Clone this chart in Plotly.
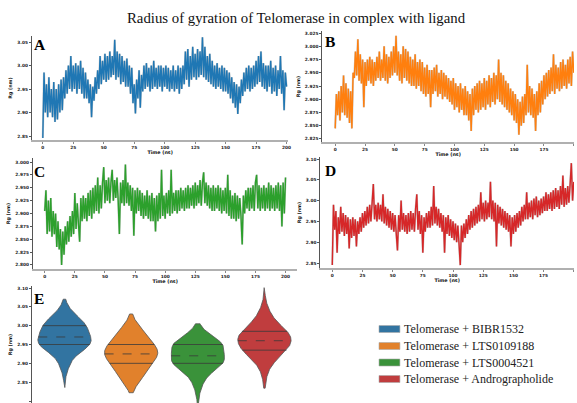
import numpy as np
import plotly.graph_objects as go

W, H = 577, 403

time_ns = list(range(0, 201))
time_ticks = [0, 25, 50, 75, 100, 125, 150, 175, 200]

rg_bibr1532 = [
    2.846, 2.985, 2.900, 2.960, 2.890, 2.975, 2.900, 2.950, 2.890, 2.965,
    2.880, 2.950, 2.885, 2.960, 2.900, 2.970, 2.905, 2.975, 2.930, 2.990,
    2.940, 3.000, 2.950, 3.020, 2.945, 3.000, 2.950, 3.005, 2.940, 3.000,
    2.950, 3.010, 2.940, 2.995, 2.930, 2.985, 2.930, 2.970, 2.920, 2.960,
    2.890, 2.955, 2.925, 2.975, 2.940, 2.990, 2.950, 3.020, 2.960, 3.010,
    2.970, 3.025, 2.965, 3.020, 2.970, 3.030, 2.975, 3.020, 2.980, 3.055,
    2.970, 3.030, 2.975, 3.025, 2.960, 3.020, 2.965, 3.010, 2.955, 3.015,
    2.955, 3.000, 2.940, 2.995, 2.920, 2.960, 2.898, 2.970, 2.930, 2.990,
    2.910, 2.980, 2.945, 3.000, 2.950, 3.005, 2.955, 2.995, 2.945, 3.000,
    2.950, 3.010, 2.955, 2.995, 2.950, 3.000, 2.955, 3.000, 2.945, 2.995,
    2.955, 3.000, 2.950, 2.995, 2.945, 2.990, 2.950, 3.000, 2.945, 2.990,
    2.950, 3.000, 2.940, 2.995, 2.950, 3.000, 2.960, 3.030, 2.970, 3.035,
    2.955, 3.020, 2.970, 3.040, 2.975, 3.025, 2.970, 3.035, 2.975, 3.030,
    2.980, 3.060, 2.975, 3.040, 2.970, 3.020, 2.965, 3.025, 2.960, 3.010,
    2.955, 3.000, 2.950, 3.005, 2.955, 2.995, 2.950, 3.000, 2.945, 2.995,
    2.945, 2.990, 2.940, 2.985, 2.930, 2.975, 2.920, 2.965, 2.910, 2.960,
    2.897, 2.955, 2.920, 2.970, 2.935, 2.985, 2.945, 2.995, 2.950, 3.000,
    2.945, 2.995, 2.950, 3.000, 2.955, 3.010, 2.960, 3.020, 2.965, 3.030,
    2.955, 3.005, 2.950, 3.000, 2.945, 3.000, 2.955, 3.010, 2.940, 2.995,
    2.945, 3.000, 2.935, 2.990, 2.950, 3.020, 2.940, 2.990, 2.905, 2.985,
    2.955,
]

rg_lts0109188 = [
    2.845, 2.910, 2.870, 2.915, 2.860, 2.925, 2.875, 2.945, 2.870, 2.930,
    2.865, 2.920, 2.855, 2.915, 2.845, 2.950, 2.940, 2.990, 2.945, 3.013,
    2.935, 2.985, 2.930, 2.975, 2.885, 2.970, 2.925, 2.975, 2.935, 2.980,
    2.930, 2.975, 2.925, 2.970, 2.935, 2.980, 2.940, 2.990, 2.935, 2.975,
    2.940, 3.000, 2.935, 2.985, 2.930, 2.980, 2.940, 2.990, 2.945, 3.000,
    2.950, 3.020, 2.945, 2.990, 2.935, 2.985, 2.930, 3.000, 2.940, 2.995,
    2.935, 2.990, 2.930, 2.980, 2.925, 2.975, 2.925, 2.985, 2.920, 2.970,
    2.925, 2.975, 2.915, 2.970, 2.910, 2.960, 2.905, 2.965, 2.910, 2.955,
    2.885, 2.955, 2.910, 2.960, 2.915, 2.965, 2.905, 2.950, 2.910, 2.955,
    2.900, 2.950, 2.905, 2.945, 2.900, 2.940, 2.895, 2.935, 2.890, 2.940,
    2.880, 2.930, 2.885, 2.925, 2.875, 2.930, 2.880, 2.920, 2.870, 2.925,
    2.870, 2.915, 2.860, 2.910, 2.840, 2.920, 2.870, 2.925, 2.880, 2.930,
    2.875, 2.935, 2.880, 2.930, 2.885, 2.940, 2.880, 2.935, 2.890, 2.945,
    2.885, 2.940, 2.895, 2.950, 2.890, 2.945, 2.900, 2.975, 2.895, 2.950,
    2.890, 2.945, 2.885, 2.935, 2.880, 2.930, 2.875, 2.920, 2.870, 2.915,
    2.860, 2.910, 2.855, 2.900, 2.833, 2.895, 2.850, 2.905, 2.855, 2.910,
    2.870, 2.965, 2.875, 2.925, 2.870, 2.920, 2.865, 2.910, 2.840, 2.915,
    2.870, 2.930, 2.875, 2.935, 2.890, 2.945, 2.900, 2.950, 2.905, 2.955,
    2.910, 2.960, 2.915, 2.985, 2.910, 2.965, 2.920, 2.960, 2.915, 2.970,
    2.920, 2.975, 2.925, 2.965, 2.920, 2.975, 2.930, 2.980, 2.925, 2.990,
    2.950,
]

rg_lts0004521 = [
    2.905, 2.945, 2.860, 2.925, 2.865, 2.930, 2.855, 2.905, 2.860, 2.900,
    2.835, 2.885, 2.830, 2.870, 2.800, 2.865, 2.820, 2.875, 2.840, 2.885,
    2.845, 2.895, 2.855, 2.905, 2.860, 2.940, 2.870, 2.920, 2.880, 2.845,
    2.930, 2.885, 2.935, 2.890, 2.930, 2.885, 2.940, 2.895, 2.945, 2.890,
    2.950, 2.900, 2.955, 2.905, 2.970, 2.900, 2.955, 2.910, 2.960, 2.990,
    2.920, 2.965, 2.925, 2.970, 2.920, 2.960, 2.985, 2.925, 2.965, 2.930,
    2.970, 2.925, 2.860, 2.960, 2.920, 2.965, 2.915, 2.995, 2.920, 2.960,
    2.915, 2.955, 2.905, 2.950, 2.857, 2.945, 2.900, 2.950, 2.905, 2.945,
    2.895, 2.940, 2.890, 2.935, 2.895, 2.945, 2.890, 2.935, 2.885, 2.940,
    2.885, 2.930, 2.865, 2.935, 2.885, 2.940, 2.890, 2.985, 2.895, 2.935,
    2.890, 2.940, 2.900, 2.945, 2.895, 2.985, 2.900, 2.940, 2.905, 2.945,
    2.900, 2.945, 2.905, 2.950, 2.910, 2.945, 2.905, 2.950, 2.910, 2.955,
    2.910, 2.950, 2.915, 2.955, 2.910, 2.960, 2.915, 2.955, 2.920, 2.965,
    2.915, 2.960, 2.980, 2.920, 2.960, 2.915, 2.955, 2.910, 2.950, 2.905,
    2.955, 2.905, 2.950, 2.910, 2.955, 2.905, 2.950, 2.900, 2.945, 2.905,
    2.950, 2.900, 2.975, 2.895, 2.945, 2.890, 2.935, 2.890, 2.940, 2.885,
    2.935, 2.890, 2.930, 2.895, 2.840, 2.935, 2.900, 2.945, 2.910, 2.950,
    2.905, 2.950, 2.910, 2.955, 2.905, 2.960, 2.975, 2.910, 2.955, 2.905,
    2.950, 2.910, 2.955, 2.905, 2.950, 2.910, 2.960, 2.905, 2.955, 2.910,
    2.950, 2.905, 2.955, 2.910, 2.960, 2.905, 2.955, 2.875, 2.960, 2.900,
    2.970,
]

rg_andrographolide = [
    2.845, 2.990, 2.930, 2.975, 2.875, 2.960, 2.920, 2.985, 2.925, 2.970,
    2.915, 2.965, 2.920, 2.960, 2.885, 2.955, 2.910, 2.960, 2.915, 2.955,
    2.890, 2.950, 2.920, 2.960, 2.925, 2.970, 2.935, 2.975, 2.940, 2.985,
    2.945, 2.990, 2.950, 2.995, 3.040, 2.955, 2.990, 2.950, 2.995, 2.955,
    2.990, 2.950, 3.015, 2.945, 2.985, 2.940, 2.980, 2.935, 2.975, 2.930,
    2.970, 2.925, 2.965, 2.920, 2.880, 2.965, 2.925, 3.000, 2.930, 2.970,
    2.925, 2.965, 2.920, 2.970, 2.925, 2.975, 2.930, 2.970, 2.925, 2.980,
    3.015, 2.930, 2.975, 2.920, 2.965, 2.875, 2.960, 2.925, 2.970, 2.935,
    2.975, 2.935, 2.985, 2.940, 3.035, 2.945, 2.985, 2.940, 2.980, 2.935,
    2.970, 2.925, 2.965, 2.875, 2.960, 2.920, 2.965, 2.915, 2.955, 2.910,
    2.950, 2.905, 2.945, 2.900, 2.940, 2.895, 2.845, 2.940, 2.900, 2.945,
    2.910, 2.955, 2.920, 2.965, 2.930, 2.975, 2.935, 2.980, 2.940, 2.985,
    2.945, 2.990, 2.950, 3.020, 2.955, 2.995, 2.950, 3.000, 2.955, 2.995,
    2.960, 3.045, 2.955, 3.000, 2.950, 2.995, 2.890, 2.990, 2.945, 2.985,
    2.940, 2.980, 2.935, 2.975, 2.930, 2.970, 2.925, 2.965, 2.890, 2.960,
    2.920, 2.965, 2.925, 2.970, 2.935, 2.975, 2.940, 2.985, 2.950, 2.990,
    2.955, 3.020, 2.955, 2.995, 2.960, 3.000, 2.955, 3.005, 2.965, 3.010,
    2.960, 3.000, 2.965, 3.005, 2.970, 3.010, 2.975, 3.020, 2.975, 3.015,
    2.980, 3.020, 2.975, 3.025, 2.980, 3.030, 2.985, 3.025, 2.980, 3.035,
    2.990, 3.060, 2.985, 3.030, 2.990, 3.035, 2.995, 3.040, 3.090, 3.000,
    3.045,
]

series_names = [
    "Telomerase + BIBR1532",
    "Telomerase + LTS0109188",
    "Telomerase + LTS0004521",
    "Telomerase + Andrographolide",
]
panel_letters = ["A", "B", "C", "D", "E"]
line_colors = ["#1f77b4", "#ff7f0e", "#2ca02c", "#d62728"]
violin_colors = ["#3274a1", "#e1812c", "#3a923a", "#c03d3e"]

all_series = [rg_bibr1532, rg_lts0109188, rg_lts0004521, rg_andrographolide]
for s in all_series:
    assert len(s) == len(time_ns), len(s)


def fx(px):
    return px / W


def fy(py):
    return 1 - py / H


TICKFONT = dict(family="DejaVu Sans", size=4.3, color="#222", weight="bold")
TITLEFONT = dict(family="DejaVu Sans", size=4.8, color="#111", weight="bold")

# panel geometry in pixels: (x0, x1, ytop, ybottom), x range, y range, y tick setup
panels = [
    dict(px=(32, 290, 36, 140), xr=[-9, 201.6], yr=[2.8415, 3.0628], t0=2.85, dt=0.05, fmt=".2f"),
    dict(px=(324, 577, 31, 142), xr=[-10.8, 200.2], yr=[2.8193, 3.0288], t0=2.825, dt=0.025, fmt=".3f"),
    dict(px=(33, 299, 158, 269), xr=[-9.9, 209.9], yr=[2.7922, 3.0078], t0=2.8, dt=0.025, fmt=".3f"),
    dict(px=(322, 577, 157, 268), xr=[-9.9, 200.2], yr=[2.838, 3.1048], t0=2.85, dt=0.05, fmt=".2f"),
]

fig = go.Figure()
layout = {}

for i, (p, vals) in enumerate(zip(panels, all_series)):
    n = "" if i == 0 else str(i + 1)
    x0, x1, yt, yb = p["px"]
    layout["xaxis" + n] = dict(
        domain=[fx(x0), fx(x1)], range=p["xr"], anchor="y" + n,
        tickvals=time_ticks, ticks="outside", ticklen=2, tickwidth=0.8,
        tickcolor="#888", showline=True, linecolor="#b0b0b0", linewidth=1.5,
        showgrid=False, zeroline=False, tickfont=TICKFONT,
        title=dict(text="Time (ns)", font=TITLEFONT, standoff=1),
    )
    layout["yaxis" + n] = dict(
        domain=[fy(yb), fy(yt)], range=p["yr"], anchor="x" + n,
        tick0=p["t0"], dtick=p["dt"], tickformat=p["fmt"], ticks="outside",
        ticklen=2, tickwidth=0.8, tickcolor="#555", showline=True,
        linecolor="#555", linewidth=1, showgrid=False, zeroline=False,
        tickfont=TICKFONT, title=dict(text="Rg (nm)", font=TITLEFONT, standoff=4),
    )
    fig.add_trace(go.Scatter(
        x=time_ns, y=vals, mode="lines", xaxis="x" + n, yaxis="y" + n,
        line=dict(color="rgba(150,150,150,0.5)", width=2.1, simplify=False),
        showlegend=False, hoverinfo="skip",
    ))
    fig.add_trace(go.Scatter(
        x=time_ns, y=vals, mode="lines", xaxis="x" + n, yaxis="y" + n,
        line=dict(color=line_colors[i], width=1.4, simplify=False),
        showlegend=False, name=series_names[i],
    ))

# Violin panel E
layout["xaxis5"] = dict(
    domain=[fx(32), fx(300)], range=[-0.49, 3.51], anchor="y5",
    showticklabels=False, showline=False, showgrid=False, zeroline=False, ticks="",
)
layout["yaxis5"] = dict(
    domain=[fy(403), fy(286)], range=[2.7947, 3.1053], anchor="x5",
    tick0=2.8, dtick=0.05, tickformat=".2f", ticks="outside", ticklen=2,
    tickwidth=0.8, tickcolor="#555", showline=True, linecolor="#555",
    linewidth=1, showgrid=False, zeroline=False, tickfont=TICKFONT,
    title=dict(text="Rg (nm)", font=TITLEFONT, standoff=4),
)


def kde(vals, grid, bw):
    v = np.asarray(vals, dtype=float)
    z = (grid[:, None] - v[None, :]) / bw
    return np.exp(-0.5 * z ** 2).sum(axis=1) / (len(v) * bw * np.sqrt(2 * np.pi))


BW_ADJUST = 1.6
CUT = 0.5
HALF_WIDTH = 0.4

for i, vals in enumerate(all_series):
    v = np.asarray(vals, dtype=float)
    bw = v.std(ddof=1) * len(v) ** (-1 / 5) * BW_ADJUST
    grid = np.linspace(v.min() - CUT * bw, v.max() + CUT * bw, 300)
    dens = kde(v, grid, bw)
    scale = HALF_WIDTH / dens.max()
    d = dens * scale
    xs = np.concatenate([i + d, (i - d)[::-1], [i + d[0]]])
    ys = np.concatenate([grid, grid[::-1], [grid[0]]])
    fig.add_trace(go.Scatter(
        x=xs, y=ys, mode="lines", fill="toself", fillcolor=violin_colors[i],
        line=dict(color="#555555", width=0.8), xaxis="x5", yaxis="y5",
        showlegend=False, hoverinfo="skip",
    ))
    for q, dash in [(25, "solid"), (50, "dash"), (75, "solid")]:
        yq = float(np.percentile(v, q))
        dq = float(kde(v, np.array([yq]), bw)[0] * scale)
        fig.add_trace(go.Scatter(
            x=[i - dq, i + dq], y=[yq, yq], mode="lines",
            line=dict(color="#3a3a3a", width=0.8, dash=dash),
            xaxis="x5", yaxis="y5", showlegend=False, hoverinfo="skip",
        ))

annotations = [
    dict(text="Radius of gyration of Telomerase in complex with ligand",
         x=fx(298.5), y=fy(18), xref="paper", yref="paper", showarrow=False,
         xanchor="center", yanchor="middle",
         font=dict(family="Liberation Serif", size=14.8, color="#111")),
]
letter_pos = [(32, 34), (325, 31), (32, 161), (325, 160), (32, 288)]
for letter, (lx, ly) in zip(panel_letters, letter_pos):
    annotations.append(dict(
        text=letter, x=fx(lx), y=fy(ly), xref="paper", yref="paper",
        showarrow=False, xanchor="left", yanchor="top",
        font=dict(family="Liberation Serif", size=15.5, color="#000", weight="bold"),
    ))

# legend (patch + label for each series)
shapes = []
legend_rows = [329, 346, 362.5, 379]
for i, name in enumerate(series_names):
    yc = legend_rows[i]
    shapes.append(dict(
        type="rect", xref="paper", yref="paper",
        x0=fx(381), x1=fx(402), y0=fy(yc + 3.5), y1=fy(yc - 3.5),
        fillcolor=violin_colors[i], line=dict(color="#aaaaaa", width=0.6),
    ))
    annotations.append(dict(
        text=name, x=fx(404), y=fy(yc), xref="paper", yref="paper",
        showarrow=False, xanchor="left", yanchor="middle",
        font=dict(family="Liberation Serif", size=12, color="#222"),
    ))

fig.update_layout(
    width=W, height=H, autosize=False,
    margin=dict(l=0, r=0, t=0, b=0),
    plot_bgcolor="white", paper_bgcolor="white",
    annotations=annotations, shapes=shapes, showlegend=False,
    **layout,
)

fig.write_html(
    "out.html",
    config={"displayModeBar": False},
    post_script="document.body.style.margin='0';document.body.style.padding='0';",
)
